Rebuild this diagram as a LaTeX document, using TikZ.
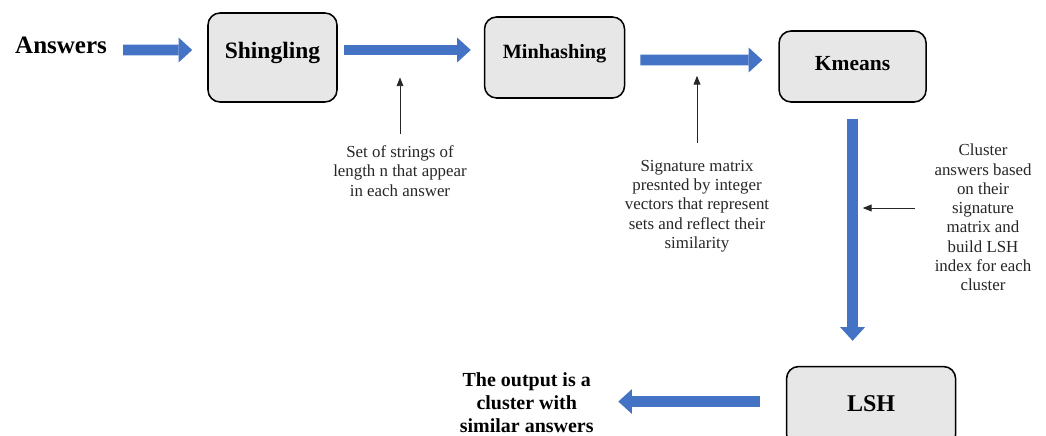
\documentclass[tikz,border=0pt]{standalone}
\usepackage{fontspec}
\setmainfont{Liberation Serif}
\usetikzlibrary{arrows.meta, positioning}
\definecolor{arrowblue}{HTML}{4472C4}
\definecolor{boxgray}{HTML}{E7E7E7}

\begin{document}
\begin{tikzpicture}[
    stage/.style={draw, line width=1.1pt, rounded corners=0.3cm, fill=boxgray, align=center},
    note/.style={inner sep=0pt, align=center, text=black!85, font=\fontsize{12}{13.7}\selectfont},
    bigarrow/.style={draw=arrowblue, line width=0.27cm, -{Triangle[width=0.62cm, length=0.34cm, line width=0pt]}},
    thinarrow/.style={draw=black!85, line width=0.7pt, -{Triangle[width=0.17cm, length=0.22cm]}}
]
\useasboundingbox (0,0) rectangle (26.15,-10.875);

% pipeline stages
\node[stage, minimum width=3.225cm, minimum height=2.225cm, text depth=0.35cm, font=\bfseries\fontsize{16.7}{18}\selectfont] (shingling) at (6.8125,-1.4375) {Shingling};
\node[stage, right=3.65cm of shingling, minimum width=3.5cm, minimum height=2.025cm, text depth=0.31cm, font=\bfseries\fontsize{14.4}{16}\selectfont] (minhashing) {Minhashing};
\node[stage, right=3.825cm of minhashing, yshift=-0.225cm, minimum width=3.675cm, minimum height=1.775cm, text depth=0.175cm, font=\bfseries\fontsize{15.3}{17}\selectfont] (kmeans) {Kmeans};
\node[stage, below=6.575cm of kmeans, xshift=0.4625cm, minimum width=4.225cm, minimum height=2cm, text depth=0.15cm, font=\bfseries\fontsize{17.1}{19}\selectfont] (lsh) {LSH};

\node[inner sep=0pt, left=2.5cm of shingling, yshift=0.3125cm, font=\bfseries\fontsize{17.8}{20}\selectfont] (answers) {Answers};
\node[inner sep=0pt, align=center, left=4.8cm of lsh, yshift=0.1cm, font=\bfseries\fontsize{14.2}{16.4}\selectfont] (output) {The output is a\\cluster with\\similar answers};

% notes
\node[note] (strings) at (10.0,-4.275) {Set of strings of\\length n that appear\\in each answer};
\node[note] (signature) at (17.425,-5.15) {Signature matrix\\presnted by integer\\vectors that represent\\sets and reflect their\\similarity};
\node[note] (clusternote) at (24.575,-5.4375) {Cluster\\answers based\\on their\\signature\\matrix and\\build LSH\\index for each\\cluster};

\coordinate[above=1.7cm of strings.north] (tipA);
\coordinate[above=2.1cm of signature.north] (tipB);
\coordinate[left=1.7875cm of clusternote.west, yshift=0.2375cm] (tipC);

% flow
\draw[bigarrow, shorten <=0.4cm, shorten >=0.375cm] ([yshift=-0.125cm]answers.east) -- ([yshift=0.1875cm]shingling.west);
\draw[bigarrow, shorten <=0.15cm, shorten >=0.325cm] ([yshift=0.1875cm]shingling.east) -- ([yshift=0.1875cm]minhashing.west);
\draw[bigarrow, shorten <=0.375cm, shorten >=0.4cm] ([yshift=-0.0625cm]minhashing.east) -- ([yshift=0.1625cm]kmeans.west);
\draw[bigarrow, shorten <=0.4cm, shorten >=0.625cm] (kmeans.south) -- (kmeans.south |- lsh.north);
\draw[bigarrow, shorten <=0.65cm, shorten >=0.6125cm] ([yshift=0.125cm]lsh.west) -- ([yshift=0.025cm]output.east);

\draw[thinarrow, shorten <=0.275cm] (strings.north) -- (tipA);
\draw[thinarrow, shorten <=0.425cm] (signature.north) -- (tipB);
\draw[thinarrow, shorten <=0.4875cm] ([yshift=0.2375cm]clusternote.west) -- (tipC);

\end{tikzpicture}
\end{document}
